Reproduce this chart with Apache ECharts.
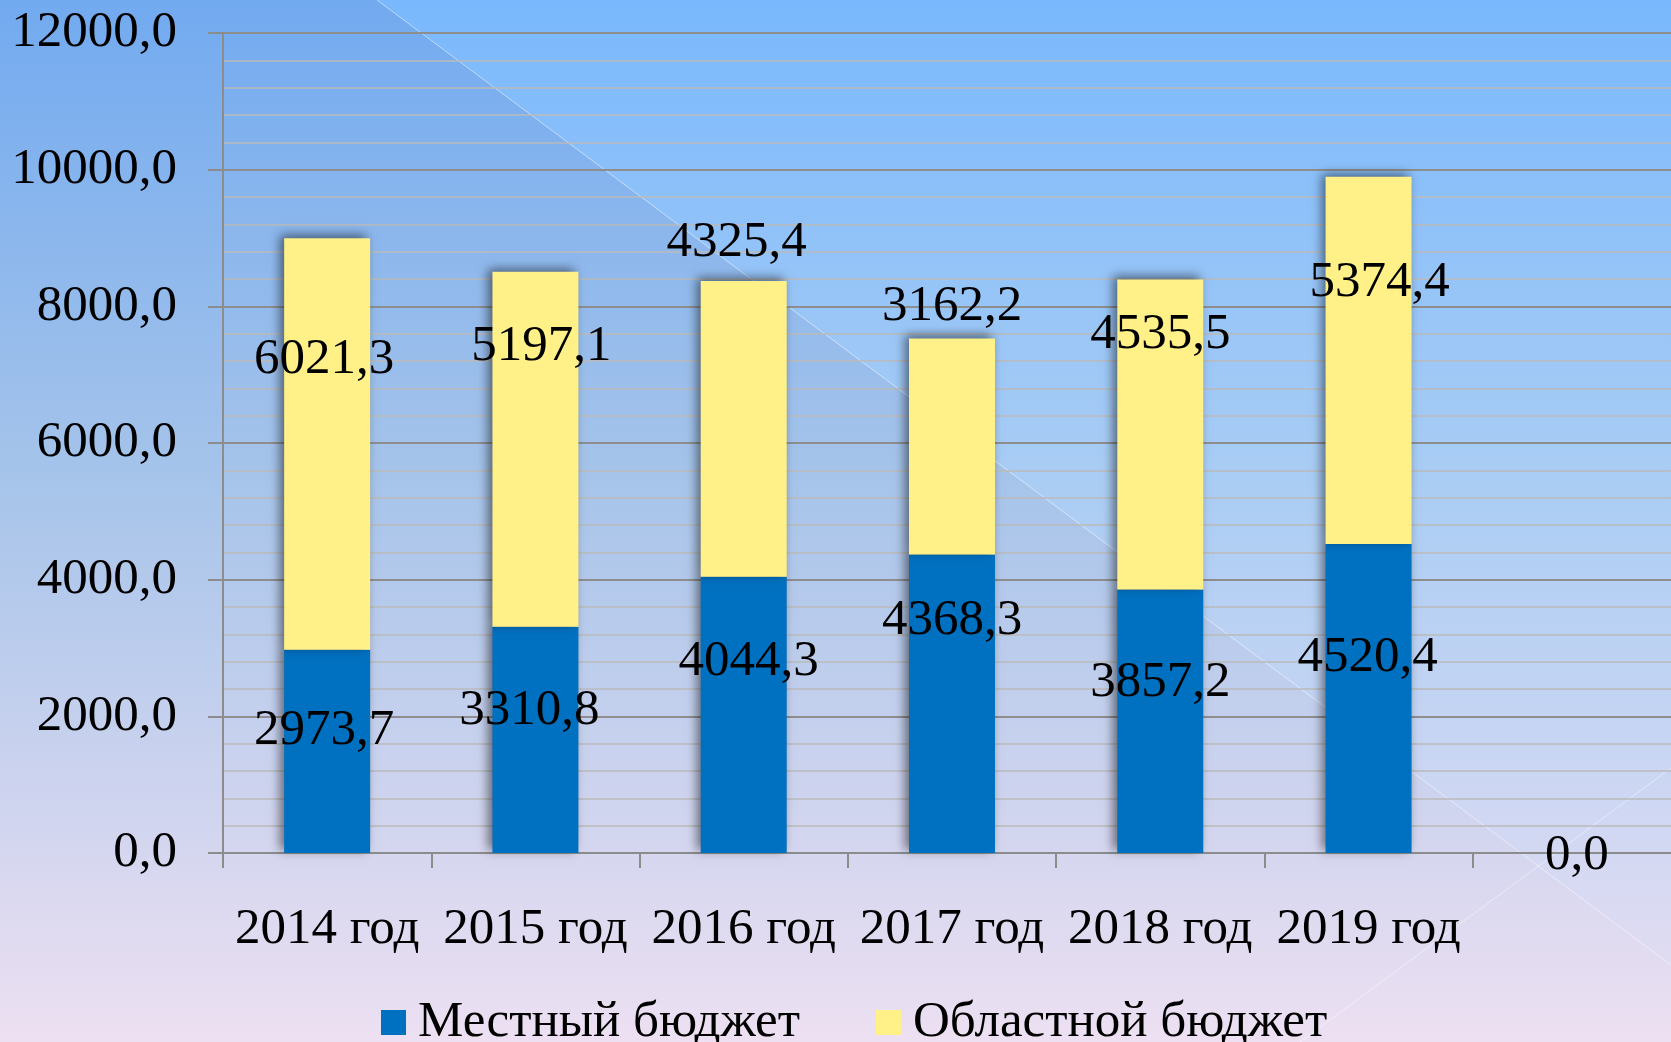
<!DOCTYPE html>
<html>
<head>
<meta charset="utf-8">
<script src="https://cdn.jsdelivr.net/npm/echarts@6/dist/echarts.min.js"></script>
<style>
  html, body { margin: 0; padding: 0; }
  #chart { width: 1671px; height: 1042px; }
</style>
</head>
<body>
<div id="chart"></div>
<script>
// данные
var categories = ['2014 год', '2015 год', '2016 год', '2017 год', '2018 год', '2019 год', ''];
var localBudget = [2973.7, 3310.8, 4044.3, 4368.3, 3857.2, 4520.4, 0];
var regionalBudget = [6021.3, 5197.1, 4325.4, 3162.2, 4535.5, 5374.4, '-'];
var seriesNames = ['Местный бюджет', 'Областной бюджет'];

// подписи сдвинуты вручную, как в оригинале
var localLabelShift = [[-3, -21], [-6, -29], [5, -53], [0, -83], [0, -39], [-1, -41], [0, 3]];
var regionalLabelShift = [[-3, -84], [6, -103], [-7, -186], [0, -140], [0, -100], [11, -78], [0, 0]];

var FONT = "'Liberation Serif', 'DejaVu Serif', serif";
var FONT_SIZE = 51;

function fmt(v) {
    return Number(v).toFixed(1).replace('.', ',');
}

function withShift(values, shifts) {
    return values.map(function (v, i) {
        return { value: v, label: { offset: shifts[i] } };
    });
}

var barShadow = {
    shadowBlur: 10,
    shadowColor: 'rgba(0, 0, 0, 0.5)',
    shadowOffsetX: -4,
    shadowOffsetY: -3
};

var chart = echarts.init(document.getElementById('chart'));
var option = {
    animation: false,
    graphic: [
        {
            type: 'rect', z: -20, silent: true,
            shape: { x: 0, y: 0, width: 1671, height: 1042 },
            style: {
                fill: {
                    type: 'linear', x: 0, y: 0, x2: 0, y2: 1,
                    colorStops: [
                        { offset: 0, color: '#72aaf0' },
                        { offset: 0.46, color: '#a6c4ea' },
                        { offset: 1, color: '#ede0f2' }
                    ]
                }
            }
        },
        {
            type: 'polygon', z: -19, silent: true,
            shape: { points: [[377, 0], [1671, 0], [1671, 965]] },
            style: {
                fill: {
                    type: 'linear', x: 0, y: 0, x2: 0, y2: 1,
                    colorStops: [
                        { offset: 0, color: '#79b8fd' },
                        { offset: 0.5, color: '#aacdf4' },
                        { offset: 1, color: '#e0dcf2' }
                    ]
                }
            }
        },
        {
            type: 'line', z: -18, silent: true,
            shape: { x1: 377, y1: 0, x2: 1671, y2: 965 },
            style: { stroke: 'rgba(255,255,255,0.5)', lineWidth: 1 }
        },
        {
            type: 'line', z: -18, silent: true,
            shape: { x1: 1300, y1: 1042, x2: 1671, y2: 768 },
            style: { stroke: 'rgba(255,255,255,0.45)', lineWidth: 1 }
        }
    ],
    grid: {
        left: 223,
        top: 33,
        width: 1458,
        height: 820,
        containLabel: false,
        outerBoundsMode: 'none'
    },
    legend: {
        data: seriesNames,
        left: 376,
        top: 992,
        icon: 'rect',
        itemWidth: 25,
        itemHeight: 25,
        itemGap: 76,
        itemStyle: { shadowBlur: 0, shadowOffsetX: 0, shadowOffsetY: 0 },
        textStyle: {
            fontFamily: FONT,
            fontSize: 51,
            color: '#000',
            padding: [0, 0, 0, 7]
        }
    },
    xAxis: {
        type: 'category',
        data: categories,
        axisLine: { lineStyle: { color: '#8c8c8c', width: 2 } },
        axisTick: {
            show: true,
            length: 15,
            interval: 0,
            alignWithLabel: false,
            lineStyle: { color: '#8c8c8c', width: 2 }
        },
        axisLabel: {
            interval: 0,
            margin: 51,
            color: '#000',
            fontFamily: FONT,
            fontSize: FONT_SIZE
        },
        splitLine: { show: false }
    },
    yAxis: {
        type: 'value',
        min: 0,
        max: 12000,
        interval: 2000,
        axisLine: { show: true, lineStyle: { color: '#8c8c8c', width: 2 } },
        axisTick: { show: true, length: 15, lineStyle: { color: '#8c8c8c', width: 2 } },
        axisLabel: {
            margin: 46,
            color: '#000',
            fontFamily: FONT,
            fontSize: FONT_SIZE,
            formatter: fmt
        },
        splitLine: { show: true, lineStyle: { color: '#8e8e8e', width: 2 } },
        minorTick: { show: false, splitNumber: 5 },
        minorSplitLine: { show: true, lineStyle: { color: '#bababa', width: 1.5 } }
    },
    series: [
        {
            name: seriesNames[0],
            type: 'bar',
            stack: 'total',
            barWidth: 86,
            data: withShift(localBudget, localLabelShift),
            itemStyle: Object.assign({ color: '#0070c0' }, barShadow),
            label: {
                show: true,
                position: 'inside',
                color: '#000',
                fontFamily: FONT,
                fontSize: FONT_SIZE,
                formatter: function (p) { return fmt(p.value); }
            }
        },
        {
            name: seriesNames[1],
            type: 'bar',
            stack: 'total',
            barWidth: 86,
            data: withShift(regionalBudget, regionalLabelShift),
            itemStyle: Object.assign({ color: '#fff087' }, barShadow),
            label: {
                show: true,
                position: 'inside',
                color: '#000',
                fontFamily: FONT,
                fontSize: FONT_SIZE,
                formatter: function (p) { return fmt(p.value); }
            }
        }
    ]
};
chart.setOption(option);
</script>
</body>
</html>
